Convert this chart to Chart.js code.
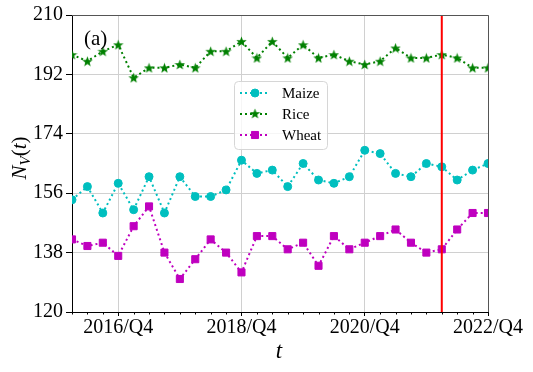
<!DOCTYPE html>
<html>
<head>
<meta charset="utf-8">
<script src="https://cdn.jsdelivr.net/npm/chart.js@4.4.0/dist/chart.umd.min.js"></script>
<style>
  html, body { margin: 0; padding: 0; background: #fff; }
  #wrap { width: 533px; height: 372px; position: relative; }
</style>
</head>
<body>
<div id="wrap"><canvas id="chart"></canvas></div>
<script>
const quarters = [
  '2016/Q1', '2016/Q2', '2016/Q3', '2016/Q4',
  '2017/Q1', '2017/Q2', '2017/Q3', '2017/Q4',
  '2018/Q1', '2018/Q2', '2018/Q3', '2018/Q4',
  '2019/Q1', '2019/Q2', '2019/Q3', '2019/Q4',
  '2020/Q1', '2020/Q2', '2020/Q3', '2020/Q4',
  '2021/Q1', '2021/Q2', '2021/Q3', '2021/Q4',
  '2022/Q1', '2022/Q2', '2022/Q3', '2022/Q4'
];
const majorTicks = ['2016/Q4', '2018/Q4', '2020/Q4', '2022/Q4'];
const yTicks = [120, 138, 156, 174, 192, 210];
const cutoffQuarter = '2022/Q1';

const maize = [154, 158, 150, 159, 151, 161, 150, 161, 155, 155, 157, 166, 162, 163,
               158, 165, 160, 159, 161, 169, 168, 162, 161, 165, 164, 160, 163, 165];
const rice  = [198, 196, 199, 201, 191, 194, 194, 195, 194, 199, 199, 202, 197, 202,
               197, 201, 197, 198, 196, 195, 196, 200, 197, 197, 198, 197, 194, 194];
const wheat = [142, 140, 141, 137, 146, 152, 138, 130, 136, 142, 138, 132, 143, 143,
               139, 141, 134, 143, 139, 141, 143, 145, 141, 138, 139, 145, 150, 150];

const CYAN = '#00bfbf', GREEN = '#008000', MAGENTA = '#bf00bf';
const SERIF = '"Liberation Serif", "DejaVu Serif", serif';

// filled 5-point star used as marker
function makeStar(size, color) {
    const c = document.createElement('canvas');
    c.width = size; c.height = size;
    const g = c.getContext('2d');
    const cx = size / 2, cy = size / 2 + 0.5, R = size / 2, r = R * 0.42;
    g.beginPath();
    for (let i = 0; i < 10; i++) {
        const rad = i % 2 === 0 ? R : r;
        const a = -Math.PI / 2 + i * Math.PI / 5;
        g.lineTo(cx + rad * Math.cos(a), cy + rad * Math.sin(a));
    }
    g.closePath();
    g.fillStyle = color;
    g.fill();
    return c;
}
const starImg = makeStar(11, GREEN);

const series = [
    { label: 'Maize', data: maize, color: CYAN, pointStyle: 'circle', radius: 4 },
    { label: 'Rice', data: rice, color: GREEN, pointStyle: starImg, radius: 5.5 },
    { label: 'Wheat', data: wheat, color: MAGENTA, pointStyle: 'rect', radius: 5 }
];

function drawMarker(ctx, s, x, y) {
    if (s.pointStyle === starImg) {
        ctx.drawImage(starImg, x - 5.5, y - 6);
    } else {
        Chart.helpers.drawPoint(ctx, { pointStyle: s.pointStyle, radius: s.radius, borderWidth: 1 }, x, y);
    }
}

const decor = {
    id: 'decor',
    afterDatasetsDraw(chart) {
        const { ctx, chartArea: a, scales: { x, y } } = chart;
        ctx.save();
        // red cut-off line
        const rx = x.getPixelForValue(quarters.indexOf(cutoffQuarter));
        ctx.strokeStyle = '#ff0000';
        ctx.lineWidth = 2;
        ctx.beginPath();
        ctx.moveTo(rx, a.top);
        ctx.lineTo(rx, a.bottom);
        ctx.stroke();

        // top and right spines
        ctx.strokeStyle = '#555';
        ctx.lineWidth = 1;
        ctx.beginPath();
        ctx.moveTo(a.left, a.top + 0.5);
        ctx.lineTo(a.right + 0.5, a.top + 0.5);
        ctx.lineTo(a.right + 0.5, a.bottom);
        ctx.stroke();

        // minor ticks every quarter
        ctx.strokeStyle = '#000';
        ctx.beginPath();
        quarters.forEach((q, i) => {
            if (majorTicks.includes(q)) return;
            const px = Math.round(x.getPixelForValue(i)) + 0.5;
            ctx.moveTo(px, a.bottom);
            ctx.lineTo(px, a.bottom + 2.5);
        });
        ctx.stroke();
        ctx.restore();
    },
    afterDraw(chart) {
        const { ctx } = chart;
        ctx.save();

        // legend
        const lx = 234, ly = 81, lw = 93, lh = 68;
        ctx.beginPath();
        ctx.roundRect(lx + 0.5, ly + 0.5, lw, lh, 4);
        ctx.fillStyle = 'rgba(255,255,255,0.8)';
        ctx.fill();
        ctx.strokeStyle = '#d6d6d6';
        ctx.lineWidth = 1;
        ctx.stroke();
        series.forEach((s, i) => {
            const yy = 93 + i * 21;
            ctx.strokeStyle = s.color;
            ctx.fillStyle = s.color;
            ctx.lineWidth = 2;
            ctx.setLineDash([2, 3]);
            ctx.beginPath();
            ctx.moveTo(240, yy);
            ctx.lineTo(269, yy);
            ctx.stroke();
            ctx.setLineDash([]);
            ctx.lineWidth = 1;
            drawMarker(ctx, s, 255, yy);
            ctx.fillStyle = '#000';
            ctx.font = '15px ' + SERIF;
            ctx.textBaseline = 'middle';
            ctx.textAlign = 'left';
            ctx.fillText(s.label, 282, yy + 1);
        });

        // panel tag
        ctx.fillStyle = '#000';
        ctx.font = '21px ' + SERIF;
        ctx.textBaseline = 'alphabetic';
        ctx.fillText('(a)', 84, 45);

        // x title
        ctx.font = 'italic 23px ' + SERIF;
        ctx.textAlign = 'center';
        ctx.fillText('t', 279, 358);

        // y title N_V(t), rotated
        ctx.translate(26, 158);
        ctx.rotate(-Math.PI / 2);
        ctx.textAlign = 'left';
        const parts = [
            { t: 'N', f: 'italic 21px ' + SERIF, dy: 0 },
            { t: 'V', f: 'italic 15px ' + SERIF, dy: 4 },
            { t: '(', f: '21px ' + SERIF, dy: 0 },
            { t: 't', f: 'italic 21px ' + SERIF, dy: 0 },
            { t: ')', f: '21px ' + SERIF, dy: 0 }
        ];
        let total = 0;
        parts.forEach(p => { ctx.font = p.f; total += ctx.measureText(p.t).width; });
        let cx = -total / 2;
        parts.forEach(p => {
            ctx.font = p.f;
            ctx.fillText(p.t, cx, p.dy);
            cx += ctx.measureText(p.t).width;
        });
        ctx.restore();
    }
};

const ctx = document.getElementById('chart').getContext('2d');
new Chart(ctx, {
    type: 'line',
    data: {
        labels: quarters,
        datasets: series.map(s => ({
            label: s.label,
            data: s.data,
            borderColor: s.color,
            backgroundColor: s.color,
            borderWidth: 2,
            borderDash: [2, 3],
            pointStyle: s.pointStyle,
            pointRadius: s.radius,
            pointBorderWidth: 1,
            pointBorderColor: s.color,
            pointBackgroundColor: s.color,
            fill: false,
            tension: 0,
            clip: 0
        }))
    },
    options: {
        responsive: true,
        maintainAspectRatio: false,
        animation: false,
        devicePixelRatio: 1,
        layout: { padding: { top: 15, right: 45, left: 0, bottom: 0 } },
        plugins: {
            legend: { display: false },
            tooltip: { enabled: false }
        },
        scales: {
            x: {
                offset: false,
                afterFit: (scale) => { scale.height = 60; },
                grid: {
                    color: (c) => majorTicks.includes(quarters[c.index]) ? '#d0d0d0' : 'rgba(0,0,0,0)',
                    tickColor: (c) => majorTicks.includes(quarters[c.index]) ? '#000' : 'rgba(0,0,0,0)',
                    tickLength: 4,
                    lineWidth: 1
                },
                border: { color: '#000', width: 1 },
                ticks: {
                    autoSkip: false,
                    maxRotation: 0,
                    padding: 0,
                    color: '#000',
                    font: { family: SERIF, size: 20 },
                    callback: (v, i) => majorTicks.includes(quarters[i]) ? quarters[i] : ''
                }
            },
            y: {
                min: yTicks[0],
                max: yTicks[yTicks.length - 1],
                afterFit: (scale) => { scale.width = 72; },
                afterBuildTicks: (scale) => { scale.ticks = yTicks.map(v => ({ value: v })); },
                grid: {
                    color: '#d0d0d0',
                    tickColor: '#000',
                    tickLength: 6,
                    lineWidth: 1
                },
                border: { color: '#000', width: 1 },
                ticks: {
                    padding: 3,
                    color: '#000',
                    font: { family: SERIF, size: 20 }
                }
            }
        }
    },
    plugins: [decor]
});
</script>
</body>
</html>
